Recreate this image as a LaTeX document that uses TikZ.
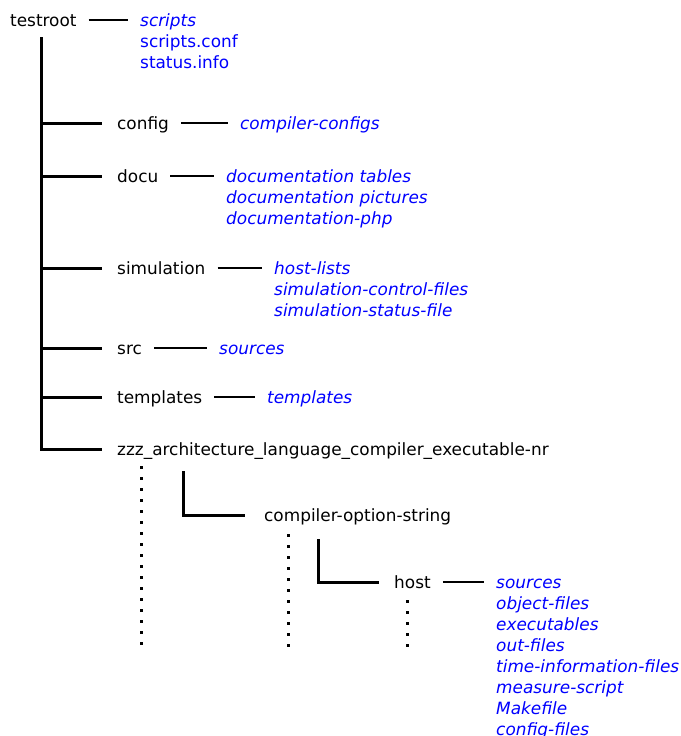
\documentclass[tikz,border=0pt]{standalone}
\usepackage{fontspec}
\setmainfont{DejaVu Sans}
\usetikzlibrary{positioning}

\begin{document}
\begin{tikzpicture}[
  x=1pt, y=-1pt,
  dir/.style={anchor=west, inner sep=0pt, text height=12pt, text depth=0pt,
              font=\fontsize{16.9}{21}\selectfont},
  item/.style={dir, text=blue, font=\fontsize{16.9}{21}\selectfont\itshape},
  plain/.style={dir, text=blue},
  tree/.style={line width=3pt},
  link/.style={line width=2pt, shorten <=12pt, shorten >=12pt},
  dotline/.style={line width=3pt, dash pattern=on 3pt off 8pt}
]
  \useasboundingbox (0,0) rectangle (680,736);

  % root and the files in it
  \node[dir] (testroot) at (10,20) {testroot};
  \node[item] (root-1) at (140,20) {scripts};
  \node[plain] (root-2) at (140,41) {scripts.conf};
  \node[plain] (root-3) at (140,62) {status.info};
  \draw[link] (testroot) -- (root-1);

  % directories below the root
  \foreach \d/\yy/\t in {config/123/config, docu/176/docu,
      simulation/268/simulation, src/348/src, templates/397/templates,
      zzz/449/zzz\_architecture\_language\_compiler\_executable-nr}{
    \node[dir] (\d) at (117,\yy) {\t};
  }
  % trunk and branches
  \coordinate (trunk) at (41,37);
  \draw[tree] (trunk) |- ([xshift=-15pt]zzz.west);
  \foreach \d in {config,docu,simulation,src,templates}{
    \draw[tree] (trunk |- \d.west) -- ([xshift=-15pt]\d.west);
  }

  % contents of the directories
  \node[item] (config-1) at (240,123) {compiler-configs};
  \foreach \t [count=\i] in {documentation tables, documentation pictures,
                             documentation-php}{
    \node[item] (docu-\i) at (226,155+21*\i) {\t};
  }
  \foreach \t [count=\i] in {host-lists, simulation-control-files,
                             simulation-status-file}{
    \node[item] (simulation-\i) at (274,247+21*\i) {\t};
  }
  \node[item] (src-1) at (219,348) {sources};
  \node[item] (templates-1) at (267,397) {templates};
  \foreach \d in {config,docu,simulation,src,templates}{
    \draw[link] (\d) -- (\d-1);
  }

  % deeper levels
  \node[dir] (cos) at (264,515) {compiler-option-string};
  \node[dir] (host) at (394,582) {host};
  \coordinate (zbend) at (183,471);
  \draw[tree] (zbend) |- ([xshift=-19pt]cos.west);
  \coordinate (cbend) at (318,539);
  \draw[tree] (cbend) |- ([xshift=-15pt]host.west);

  \foreach \t [count=\i] in {sources, object-files, executables, out-files,
      time-information-files, measure-script, Makefile, config-files}{
    \node[item] (host-\i) at (496,561+21*\i) {\t};
  }
  \draw[link] (host) -- (host-1);

  % more of the same
  \coordinate (zdots) at (141,466);
  \draw[dotline] (zdots) -- ++(0,179);
  \coordinate (cdots) at (288,534);
  \draw[dotline] (cdots) -- ++(0,113);
  \coordinate (hdots) at (407,600);
  \draw[dotline] (hdots) -- ++(0,47);
\end{tikzpicture}
\end{document}
